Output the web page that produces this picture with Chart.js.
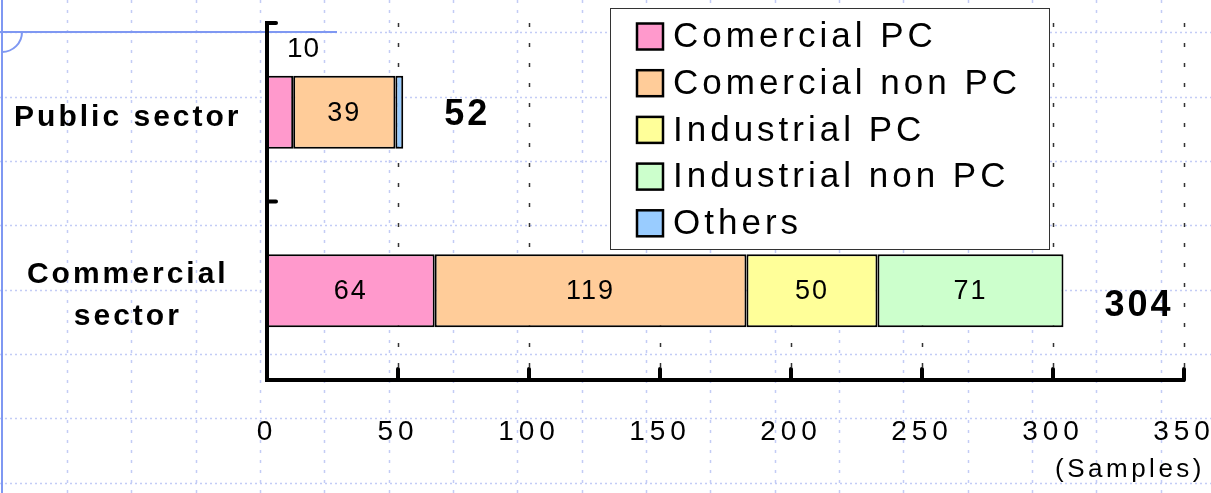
<!DOCTYPE html>
<html>
<head>
  <title>Samples by sector</title>
  <style>
    body { margin: 0; background: #fff; }
    #wrap { width: 1211px; height: 493px; }
  </style>
</head>
<body>
  <div id="wrap"><canvas id="chart"></canvas></div>

  <script src="https://cdn.jsdelivr.net/npm/chart.js"></script>
  <script>
    // data
    const sectors = ['Public sector', ['Commercial', 'sector']];
    const seriesNames = ['Comercial PC', 'Comercial non PC', 'Industrial PC', 'Industrial non PC', 'Others'];
    const comercialPC = [10, 64];
    const comercialNonPC = [39, 119];
    const industrialPC = [null, 50];
    const industrialNonPC = [null, 71];
    const others = [3, null];
    const xTicks = [0, 50, 100, 150, 200, 250, 300, 350];
    const unitLabel = '(Samples)';

    // styles
    const colors = ['#ff99cc', '#ffcc99', '#ffff99', '#ccffcc', '#99ccff'];
    const FONT = '"Liberation Sans", Arial, sans-serif';
    const totalDy = [3, 15];

    const series = [comercialPC, comercialNonPC, industrialPC, industrialNonPC, others];

    function spaceLabels(scale, gap) {
      if (scale.$spaced) return;
      const draw = scale.drawLabels.bind(scale);
      scale.drawLabels = function (area) {
        const ctx = this.ctx;
        ctx.save();
        ctx.letterSpacing = gap;
        draw(area);
        ctx.restore();
      };
      scale.$spaced = true;
    }

    function noPad(s) {
      s.paddingTop = 0; s.paddingBottom = 0; s.paddingLeft = 0; s.paddingRight = 0;
    }

    function text(ctx, str, x, y, font, align, gap) {
      ctx.save();
      ctx.font = font;
      ctx.letterSpacing = gap || '0px';
      ctx.textAlign = align || 'left';
      ctx.textBaseline = 'middle';
      ctx.fillStyle = '#000';
      ctx.fillText(str, x, y);
      ctx.restore();
    }

    const decor = {
      id: 'decor',
      afterLayout(chart) {
        spaceLabels(chart.scales.x, '5px');
        spaceLabels(chart.scales.y, '3px');
      },
      beforeDraw(chart) {
        const ctx = chart.ctx;
        const W = chart.width, H = chart.height;
        ctx.save();
        ctx.strokeStyle = '#c3ccf5';
        ctx.lineWidth = 1.5;
        ctx.setLineDash([3, 7]);
        for (let x = 2.5 + 64.35; x < W; x += 64.35) {
          ctx.beginPath(); ctx.moveTo(Math.round(x) + 0.5, 0); ctx.lineTo(Math.round(x) + 0.5, H); ctx.stroke();
        }
        ctx.setLineDash([2, 3]);
        for (let y = 32.3; y < H; y += 64.35) {
          ctx.beginPath(); ctx.moveTo(0, Math.round(y) + 0.5); ctx.lineTo(W, Math.round(y) + 0.5); ctx.stroke();
        }
        ctx.setLineDash([]);
        ctx.strokeStyle = '#7f98f2';
        ctx.lineWidth = 2;
        ctx.beginPath(); ctx.moveTo(2, 0); ctx.lineTo(2, H); ctx.stroke();
        ctx.beginPath(); ctx.moveTo(0, 32); ctx.lineTo(337, 32); ctx.stroke();
        ctx.beginPath(); ctx.arc(2, 32, 20, 0, Math.PI / 2); ctx.stroke();
        ctx.restore();
      },
      beforeDatasetsDraw(chart) {
        const ctx = chart.ctx, xs = chart.scales.x, area = chart.chartArea;
        ctx.save();
        ctx.strokeStyle = '#333';
        ctx.lineWidth = 1.5;
        ctx.setLineDash([4, 16]);
        xs.ticks.forEach(t => {
          if (t.value === 0) return;
          const x = Math.round(xs.getPixelForValue(t.value)) + 0.5;
          ctx.beginPath(); ctx.moveTo(x, area.top); ctx.lineTo(x, area.bottom - 12); ctx.stroke();
        });
        ctx.restore();
      },
      afterDatasetsDraw(chart) {
        const ctx = chart.ctx, xs = chart.scales.x, ys = chart.scales.y, area = chart.chartArea;
        ctx.save();
        ctx.strokeStyle = '#000';
        ctx.lineWidth = 4;
        ctx.lineCap = 'round';
        xs.ticks.forEach(t => {
          if (t.value === 0) return;
          const x = xs.getPixelForValue(t.value);
          ctx.beginPath(); ctx.moveTo(x, area.bottom); ctx.lineTo(x, area.bottom - 11); ctx.stroke();
        });
        [-0.5, 0.5].forEach(v => {
          const y = ys.getPixelForValue(v);
          ctx.beginPath(); ctx.moveTo(area.left, y); ctx.lineTo(area.left + 9, y); ctx.stroke();
        });
        ctx.restore();

        // values in bars
        chart.data.datasets.forEach((ds, i) => {
          const meta = chart.getDatasetMeta(i);
          meta.data.forEach((bar, j) => {
            const v = ds.data[j];
            if (v == null) return;
            if (v >= 20) {
              text(ctx, String(v), (bar.x + bar.base) / 2, bar.y + 1, '27px ' + FONT, 'center', '2px');
            } else if (v >= 10) {
              text(ctx, String(v), bar.base + 20, bar.y - bar.height / 2 - 26, '28px ' + FONT, 'left', '1px');
            }
          });
        });

        // totals
        sectors.forEach((s, j) => {
          let sum = 0, end = 0, y = 0;
          chart.data.datasets.forEach((ds, i) => {
            const v = ds.data[j];
            if (v == null) return;
            sum += v;
            const bar = chart.getDatasetMeta(i).data[j];
            end = Math.max(end, bar.x);
            y = bar.y;
          });
          text(ctx, String(sum), end + 41, y + totalDy[j], 'bold 36px ' + FONT, 'left', '3px');
        });

        // unit
        text(ctx, unitLabel, area.right + 21, 470, '26px ' + FONT, 'right', '3.5px');

        // legend box
        const lx = 610, ly = 8, lw = 439, lh = 241;
        ctx.save();
        ctx.fillStyle = '#fff';
        ctx.fillRect(lx, ly, lw, lh);
        ctx.strokeStyle = '#333';
        ctx.lineWidth = 1;
        ctx.strokeRect(lx + 0.5, ly + 0.5, lw, lh);
        chart.data.datasets.forEach((ds, i) => {
          const cy = 36.5 + i * 46.7;
          ctx.fillStyle = ds.backgroundColor;
          ctx.fillRect(637, cy - 13, 26, 26);
          ctx.strokeStyle = '#000';
          ctx.lineWidth = 2.5;
          ctx.strokeRect(637, cy - 13, 26, 26);
          text(ctx, ds.label, 673, cy + 1, '35px ' + FONT, 'left', '4px');
        });
        ctx.restore();
      }
    };

    new Chart(document.getElementById('chart'), {
      type: 'bar',
      data: {
        labels: sectors,
        datasets: seriesNames.map((name, i) => ({
          label: name,
          data: series[i],
          backgroundColor: colors[i],
          borderColor: '#000',
          borderWidth: 2,
          borderSkipped: false,
          barPercentage: 0.41,
          categoryPercentage: 1
        }))
      },
      options: {
        indexAxis: 'y',
        responsive: true,
        maintainAspectRatio: false,
        animation: false,
        layout: { padding: { top: 23, right: 27, left: 0, bottom: 0 } },
        plugins: { legend: { display: false }, tooltip: { enabled: false } },
        scales: {
          x: {
            stacked: true,
            min: 0,
            max: 350,
            afterBuildTicks: s => { s.ticks = xTicks.map(v => ({ value: v })); },
            afterFit: s => { s.height = 113; noPad(s); },
            grid: { display: false, drawTicks: false },
            border: { display: true, color: '#000', width: 4 },
            ticks: { color: '#000', padding: 35, maxRotation: 0, font: { family: FONT, size: 28 } }
          },
          y: {
            stacked: true,
            afterFit: s => { s.width = 267; noPad(s); },
            grid: { display: false, drawTicks: false },
            border: { display: true, color: '#000', width: 4 },
            ticks: { color: '#000', padding: 45, labelOffset: 5, crossAlign: 'center', font: { family: FONT, size: 30, weight: 'bold', lineHeight: 1.37 } }
          }
        }
      },
      plugins: [decor]
    });
  </script>
</body>
</html>
